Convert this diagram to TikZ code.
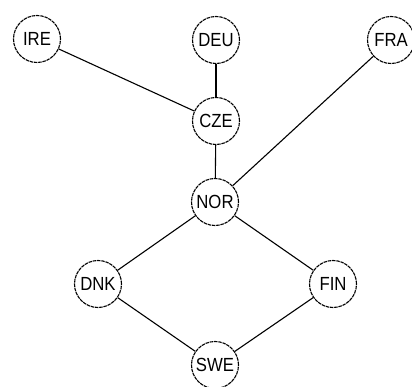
\documentclass[tikz,border=0pt]{standalone}
\usepackage{fontspec}
\setmainfont{Liberation Sans}
\newfontfamily\lblfont[FakeStretch=0.88]{Liberation Sans}
\begin{document}
\begin{tikzpicture}[x=1pt,y=-1pt,
  vtx/.style={circle,draw=black,fill=white,line width=1.1pt,dash pattern=on 3.5pt off 0.8pt,
    minimum size=47pt,inner sep=0pt,font=\lblfont\fontsize{19}{20}\selectfont},
  edge/.style={draw=black,line width=1.1pt}]
\useasboundingbox (0,0) rectangle (412,387);
\node[vtx] (IRE) at (37,39) {IRE};
\node[vtx] (DEU) at (216,40) {DEU};
\node[vtx] (FRA) at (391,40) {FRA};
\node[vtx] (CZE) at (216,121) {CZE};
\node[vtx] (NOR) at (215,202) {NOR};
\node[vtx] (DNK) at (98,284) {DNK};
\node[vtx] (FIN) at (333,284) {FIN};
\node[vtx] (SWE) at (215,365) {SWE};
\path[edge] (IRE) -- (CZE);
\path[edge] (DEU) -- (CZE);
\path[edge] (CZE) -- (NOR);
\path[edge] (FRA) -- (NOR);
\path[edge] (NOR) -- (DNK);
\path[edge] (NOR) -- (FIN);
\path[edge] (DNK) -- (SWE);
\path[edge] (FIN) -- (SWE);
\end{tikzpicture}
\end{document}
